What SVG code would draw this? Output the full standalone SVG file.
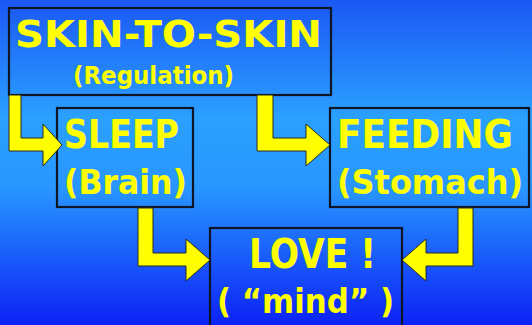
<svg xmlns="http://www.w3.org/2000/svg" width="532" height="325" viewBox="0 0 532 325">
  <defs>
    <linearGradient id="bg" x1="0" y1="0" x2="0" y2="1">
      <stop offset="0" stop-color="#1B58F4"/>
      <stop offset="0.36" stop-color="#2AA0FF"/>
      <stop offset="0.58" stop-color="#2896FF"/>
      <stop offset="1" stop-color="#0C22F6"/>
    </linearGradient>
  </defs>
  <style>
    .box { fill: none; stroke: #0E1525; stroke-width: 2.2; }
    .t { fill: #FFFF00; font-family: "DejaVu Sans", "Liberation Sans", sans-serif; font-weight: bold; }
    .arrow { fill: #FFFF00; stroke: #2A2A20; stroke-width: 1; stroke-linejoin: miter; }
  </style>
  <rect x="0" y="0" width="532" height="325" fill="url(#bg)"/>

  <g id="skin">
    <rect class="box" x="9" y="8" width="322" height="87"/>
    <text class="t" x="15" y="47" font-size="38" textLength="307" lengthAdjust="spacingAndGlyphs">SKIN-TO-SKIN</text>
    <text class="t" x="73" y="84" font-size="24" textLength="161" lengthAdjust="spacingAndGlyphs">(Regulation)</text>
  </g>
  <g id="sleep">
    <rect class="box" x="57" y="108" width="136" height="99"/>
    <text class="t" x="64" y="148" font-size="39" textLength="115" lengthAdjust="spacingAndGlyphs">SLEEP</text>
    <text class="t" x="64" y="194" font-size="34" textLength="123" lengthAdjust="spacingAndGlyphs">(Brain)</text>
  </g>
  <g id="feeding">
    <rect class="box" x="330" y="108" width="199" height="99"/>
    <text class="t" x="337" y="148" font-size="39" textLength="176" lengthAdjust="spacingAndGlyphs">FEEDING</text>
    <text class="t" x="337" y="194" font-size="33" textLength="186" lengthAdjust="spacingAndGlyphs">(Stomach)</text>
  </g>
  <g id="love">
    <rect class="box" x="210" y="228" width="192" height="100"/>
    <text class="t" x="249" y="268" font-size="40" textLength="127" lengthAdjust="spacingAndGlyphs">LOVE !</text>
    <text class="t" x="217" y="313" font-size="34" textLength="177" lengthAdjust="spacingAndGlyphs">( “mind” )</text>
  </g>

  <g id="connectors">
    <path class="arrow" d="M9,95 L21,95 L21,138 L43,138 L43,124 L62,145 L43,166 L43,151 L9,151 Z"/>
    <path class="arrow" d="M257,95 L273,95 L273,138 L306,138 L306,124 L330,145 L306,166 L306,151 L257,151 Z"/>
    <path class="arrow" d="M138,208 L153,208 L153,253 L186,253 L186,239 L210,260 L186,281 L186,266 L138,266 Z"/>
    <path class="arrow" d="M458,208 L473,208 L473,266 L426,266 L426,281 L402,260 L426,239 L426,253 L458,253 Z"/>
  </g>
</svg>
